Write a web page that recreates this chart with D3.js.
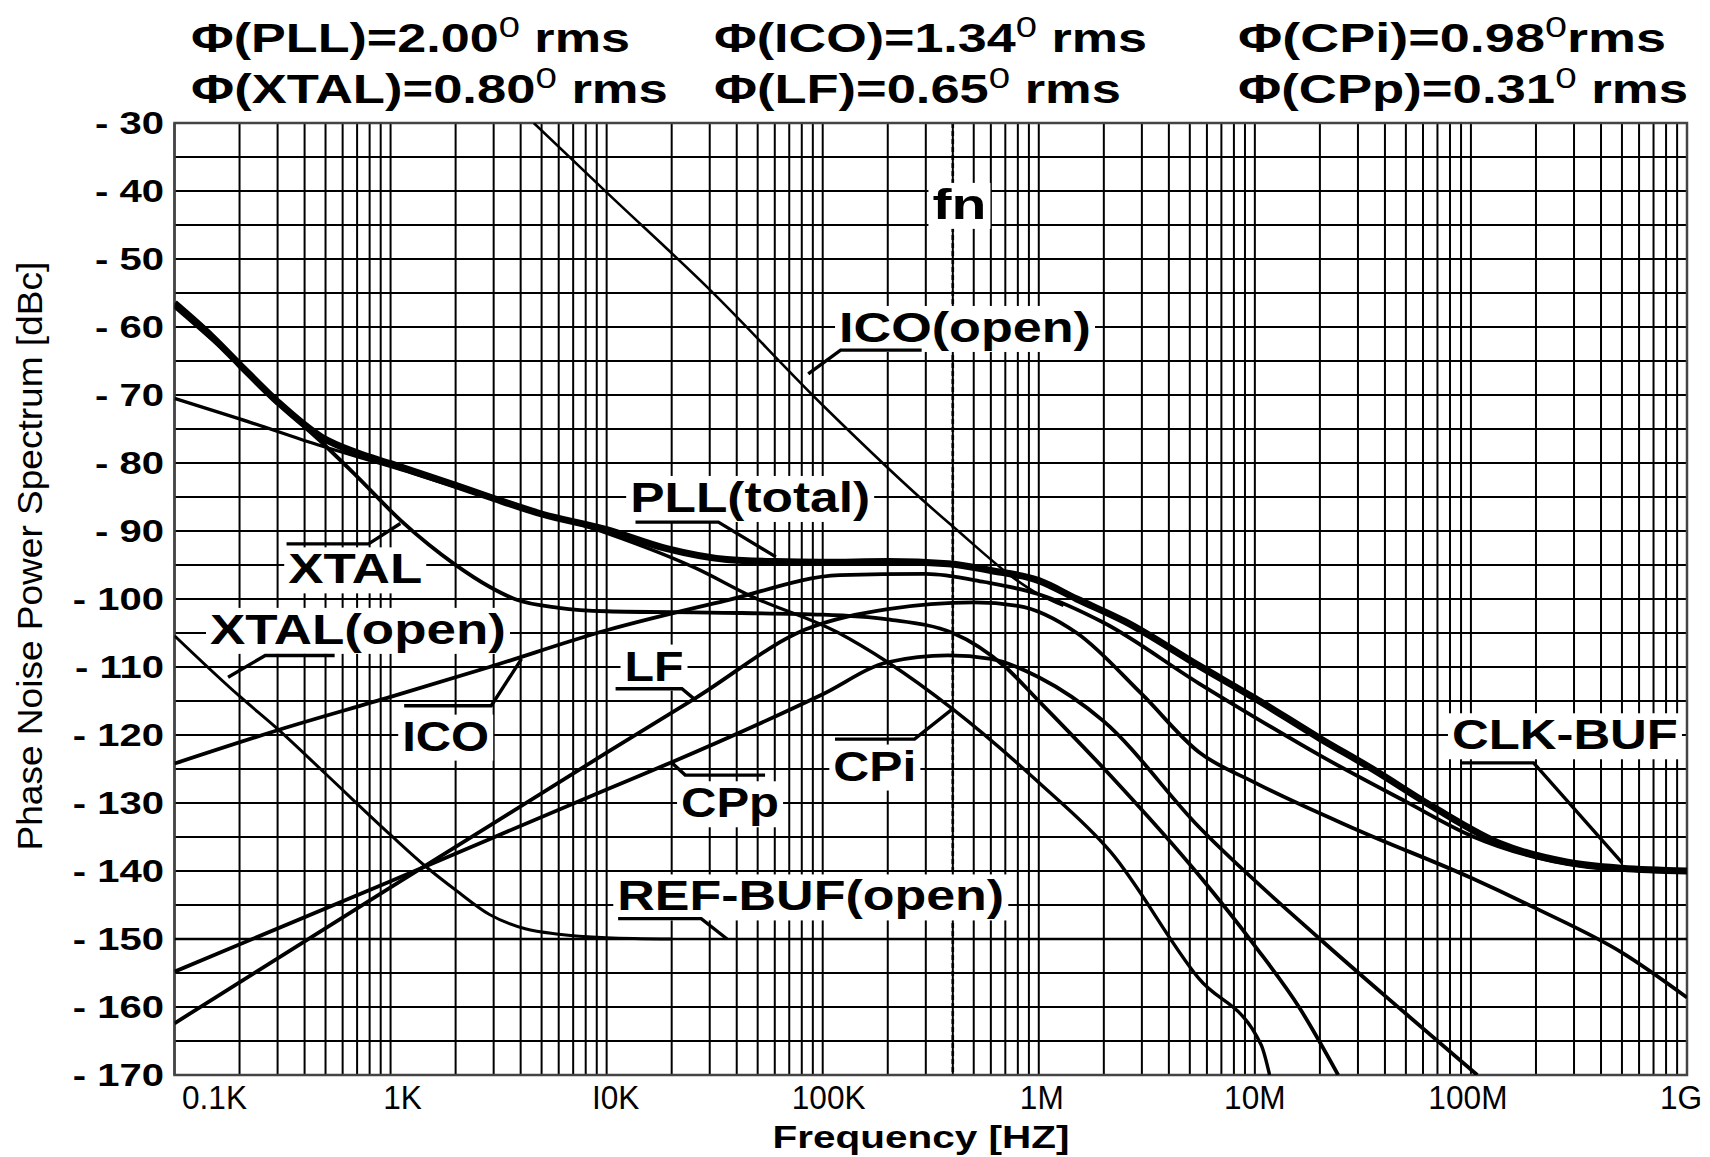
<!doctype html>
<html lang="en">
<head>
<meta charset="UTF-8">
<script src="https://cdnjs.cloudflare.com/ajax/libs/d3/7.8.5/d3.min.js"></script>
<title>Phase noise</title>
<style>
  body { margin: 0; background: #fff; }
  text { font-family: "Liberation Sans", Arial, sans-serif; fill: #000; }
</style>
</head>
<body>
<div id="viz_area"></div>
<script>
// ---- data (frequency in Hz, level in dBc) ----
const freqTicks = [1e2, 1e3, 1e4, 1e5, 1e6, 1e7, 1e8, 1e9];
const freqTickLabels = ["0.1K", "1K", "I0K", "100K", "1M", "10M", "100M", "1G"];
const dbTicks = [-30, -40, -50, -60, -70, -80, -90, -100, -110, -120, -130, -140, -150, -160, -170];
const fn = 4e5;

const rmsNames = ["PLL", "ICO", "CPi", "XTAL", "LF", "CPp"];
const rmsValues = ["2.00", "1.34", "0.98", "0.80", "0.65", "0.31"];

const pllTotal = [[100,-56.5],[150,-61.5],[200,-65.5],[300,-71],[480,-76.2],[700,-78.5],[1e3,-80.1],[2e3,-83.3],
  [2.87e3,-85],[5e3,-87.5],[1e4,-89.8],[1.9e4,-92.6],[3.6e4,-94.2],[6e4,-94.5],[1e5,-94.6],[2e5,-94.5],[3.8e5,-94.8],
  [6e5,-95.8],[1e6,-97.3],[1.5e6,-100],[2.5e6,-103.3],[5.5e6,-109.8],[1e7,-114.6],[2e7,-120.5],[3.5e7,-125],
  [6.7e7,-130.6],[1.37e8,-136],[2.8e8,-138.7],[5e8,-139.6],[1e9,-140]];
const xtalClosed = [[100,-57],[200,-65.5],[330,-72.3],[500,-77.5],[680,-81.6],[1.11e3,-88.4],[1.5e3,-92],
  [1.96e3,-94.8],[2.87e3,-98.2],[3.75e3,-100],[6e3,-101.3],[1e4,-101.8],[3e4,-102],[1e5,-102.3],[2e5,-103],
  [4e5,-105],[7e5,-110],[1e6,-115],[2.15e6,-126],[5.5e6,-140.6],[1e7,-151],[1.6e7,-160],[2.43e7,-170]];
const cpi = [[100,-70.5],[200,-73.5],[480,-77.5],[1e3,-80.5],[3e3,-85.3],[1e4,-90.3],[2.6e4,-95.5],[4.6e4,-99.5],
  [1.17e5,-104.9],[2e5,-109.3],[4e5,-116.2],[1e6,-127],[2.15e6,-137.2],[5.5e6,-155.8],[1.07e7,-165.6],[1.17e7,-170]];
const icoClosed = [[100,-124.2],[300,-119.3],[1e3,-114.4],[2.87e3,-110],[1e4,-104.6],[3.6e4,-100.2],[1.2e5,-96.5],
  [3e5,-96.3],[5.6e5,-97.5],[1e6,-99.3],[2e6,-103.5],[5.5e6,-112.4],[1e7,-117.4],[2e7,-123],[5e7,-129.8],
  [1e8,-134.8],[2e8,-138],[4e8,-139.6],[1e9,-140.1]];
const icoOpen = [[4.6e3,-30],[1e4,-40.2],[3e4,-54.5],[1e5,-71.5],[3.86e5,-88.9],[1e6,-99.3],[1.3e6,-101]];
const lf = [[100,-162.4],[1e3,-142.4],[1e4,-122.6],[2.6e4,-114.5],[8.3e4,-104.5],[2e5,-101.5],[5e5,-100.5],
  [8e5,-101],[1.5e6,-105],[3e6,-114],[5.5e6,-122.5],[1e7,-127],[3e7,-134],[1e8,-141],[2e8,-145.5],[5e8,-152],
  [1e9,-158.6]];
const cpp = [[100,-154.8],[1e3,-141.5],[1e4,-128],[2e4,-124],[1e5,-114],[2e5,-109.3],[3.8e5,-108.3],[6e5,-108.8],
  [1e6,-111.5],[2e6,-118],[5.5e6,-133.5],[2e7,-150],[5e7,-161],[1.07e8,-170]];
const xtalOpen = [[100,-105.4],[200,-114.3],[300,-119.1],[500,-125.7],[1e3,-134.7],[1.45e3,-139.3],[2e3,-142.8],
  [2.87e3,-146.4],[4.2e3,-148.5],[6e3,-149.3],[1e4,-149.8],[2e4,-150]];
const refBuf = [[100,-150],[1e9,-150]];

// ---- layout ----
const W = 1710, H = 1157;
const plot = {left: 174.5, right: 1687, top: 123, bottom: 1075};

const svg = d3.select('#viz_area').append('svg')
  .attr('width', W).attr('height', H);

const x = d3.scaleLog().domain([1e2, 1e9]).range([plot.left, plot.right]);
const y = d3.scaleLinear().domain([-170, -30]).range([plot.bottom, plot.top]);

// place text, stretched or squeezed horizontally (to a wanted width or by a factor)
function putText(g, str, px, py, opts) {
  const t = g.append('text')
    .attr('font-size', opts.size)
    .attr('font-weight', opts.weight || 'bold')
    .text(str);
  const w = t.node().getComputedTextLength();
  const k = opts.width ? opts.width / w : (opts.sx || 1);
  let dx = 0;
  if (opts.anchor === 'middle') dx = -w * k / 2;
  if (opts.anchor === 'end') dx = -w * k;
  t.attr('transform', `translate(${px + dx},${py}) scale(${k},1)`);
  return t;
}

// grid
const grid = svg.append('g');
const minorFreqs = [];
freqTicks.slice(0, -1).forEach(d => { for (let m = 1; m < 10; m++) minorFreqs.push(d * m); });
minorFreqs.push(1e9);
grid.selectAll('line.v').data(minorFreqs).join('line')
  .attr('x1', d => x(d)).attr('x2', d => x(d))
  .attr('y1', plot.top).attr('y2', plot.bottom)
  .attr('stroke', '#000').attr('stroke-width', 2);
const hLines = d3.range(-30, -171, -5);
grid.selectAll('line.h').data(hLines).join('line')
  .attr('x1', plot.left).attr('x2', plot.right)
  .attr('y1', d => y(d)).attr('y2', d => y(d))
  .attr('stroke', '#000').attr('stroke-width', 2);

// fn marker
svg.append('line')
  .attr('x1', x(fn)).attr('x2', x(fn)).attr('y1', plot.top).attr('y2', plot.bottom)
  .attr('stroke', '#000').attr('stroke-width', 2.6).attr('stroke-dasharray', '5,3');

// frame
svg.append('rect')
  .attr('x', plot.left).attr('y', plot.top)
  .attr('width', plot.right - plot.left).attr('height', plot.bottom - plot.top)
  .attr('fill', 'none').attr('stroke', '#444').attr('stroke-width', 2.5);

// axes text
const axisG = svg.append('g');
dbTicks.forEach(d => {
  putText(axisG, '- ' + Math.abs(d), 164, y(d) + 11, {size: 32, sx: 1.25, anchor: 'end'});
});
freqTicks.forEach((d, i) => {
  const shift = i === 0 ? 40 : 15 - 3 * i;
  putText(axisG, freqTickLabels[i], x(d) + shift, 1109, {size: 34, weight: 'normal', sx: 0.93, anchor: 'middle'});
});
putText(axisG, 'Frequency [HZ]', 921, 1148, {size: 32, width: 297, anchor: 'middle'});
{
  const yt = axisG.append('text').attr('font-size', 36).text('Phase Noise Power Spectrum [dBc]');
  const w = yt.node().getComputedTextLength();
  const k = 589 / w;
  yt.attr('transform', `translate(42,556) rotate(-90) translate(${-w * k / 2},0) scale(${k},1)`);
}

// rms summary at top
const colX = [191, 714, 1238];
const rowY = [52, 103];
const rowW = [[439, 433, 428], [477, 407, 450]];
rmsNames.forEach((name, i) => {
  const r = Math.floor(i / 3), c = i % 3;
  const t = svg.append('text').attr('font-size', 41).attr('font-weight', 'bold');
  t.append('tspan').text(`Φ(${name})=${rmsValues[i]}`);
  t.append('tspan').attr('font-size', 30).attr('font-weight', 'normal').attr('dy', -15).text('0');
  t.append('tspan').attr('dy', 15).text(c === 2 && r === 0 ? 'rms' : ' rms');
  const w = t.node().getBBox().width;
  t.attr('transform', `translate(${colX[c]},${rowY[r]}) scale(${rowW[r][c] / w},1)`);
});

// label boxes (text with white background) + leader lines
const labels = [
  {text: 'fn', f: 3.22e5, db: -44.1, w: 54},
  {text: 'ICO(open)', f: 1.19e5, db: -62.2, w: 252, lead: [[8.57e4,-66.9],[1.21e5,-63.4],[2.87e5,-63.4]]},
  {text: 'PLL(total)', f: 1.285e4, db: -87.2, w: 240, lead: [[1.36e4,-88.7],[3.29e4,-88.7],[6.07e4,-93.8]]},
  {text: 'XTAL', f: 336, db: -97.7, w: 134, lead: [[330,-91.9],[791,-91.9],[1110,-88.9]]},
  {text: 'XTAL(open)', f: 146, db: -106.6, w: 296, lead: [[177,-111.5],[263,-108.3],[551,-108.3]]},
  {text: 'ICO', f: 1132, db: -122.3, w: 87, lead: [[1156,-115.7],[2924,-115.7],[4036,-108.8]]},
  {text: 'LF', f: 1.21e4, db: -112, w: 59, lead: [[1.1e4,-113.2],[2.23e4,-113.2],[2.59e4,-114.9]]},
  {text: 'CPp', f: 2.21e4, db: -132.1, w: 98, lead: [[1.99e4,-124],[2.31e4,-125.9],[5.41e4,-125.9]]},
  {text: 'CPi', f: 1.12e5, db: -126.7, w: 83, lead: [[1.14e5,-120.6],[2.66e5,-120.6],[3.98e5,-116.2]]},
  {text: 'REF-BUF(open)', f: 1.12e4, db: -145.8, w: 387, lead: [[1.13e4,-147],[2.74e4,-147],[3.61e4,-150]]},
  {text: 'CLK-BUF', f: 8.17e7, db: -122.1, w: 226, lead: [[8.91e7,-124.1],[1.95e8,-124.1],[5.01e8,-138.8]]}
];
const boxG = svg.append('g');
const labG = svg.append('g');
labels.forEach(l => {
  putText(labG, l.text, x(l.f), y(l.db), {size: 42, width: l.w});
  boxG.append('rect')
    .attr('x', x(l.f) - 4).attr('y', y(l.db) - 36)
    .attr('width', l.w + 8).attr('height', 46)
    .attr('fill', '#fff');
});

// curves
svg.append('clipPath').attr('id', 'clip').append('rect')
  .attr('x', plot.left).attr('y', plot.top)
  .attr('width', plot.right - plot.left).attr('height', plot.bottom - plot.top);
const line = d3.line().x(d => x(d[0])).y(d => y(d[1])).curve(d3.curveMonotoneX);
const series = [
  {data: refBuf, w: 2.6},
  {data: xtalOpen, w: 3},
  {data: icoOpen, w: 2.6},
  {data: lf, w: 3.8},
  {data: cpp, w: 3.8},
  {data: icoClosed, w: 3.8},
  {data: cpi, w: 3.4},
  {data: xtalClosed, w: 3.8},
  {data: pllTotal, w: 7}
];
const curveG = svg.append('g').attr('clip-path', 'url(#clip)');
curveG.selectAll('path').data(series).join('path')
  .attr('d', d => line(d.data))
  .attr('fill', 'none').attr('stroke', '#000')
  .attr('stroke-width', d => d.w).attr('stroke-linejoin', 'round');

// leaders
labels.filter(l => l.lead).forEach(l => {
  svg.append('path')
    .attr('d', d3.line().x(d => x(d[0])).y(d => y(d[1]))(l.lead))
    .attr('fill', 'none').attr('stroke', '#000').attr('stroke-width', 3.4);
});
labG.raise();
</script>
</body>
</html>
